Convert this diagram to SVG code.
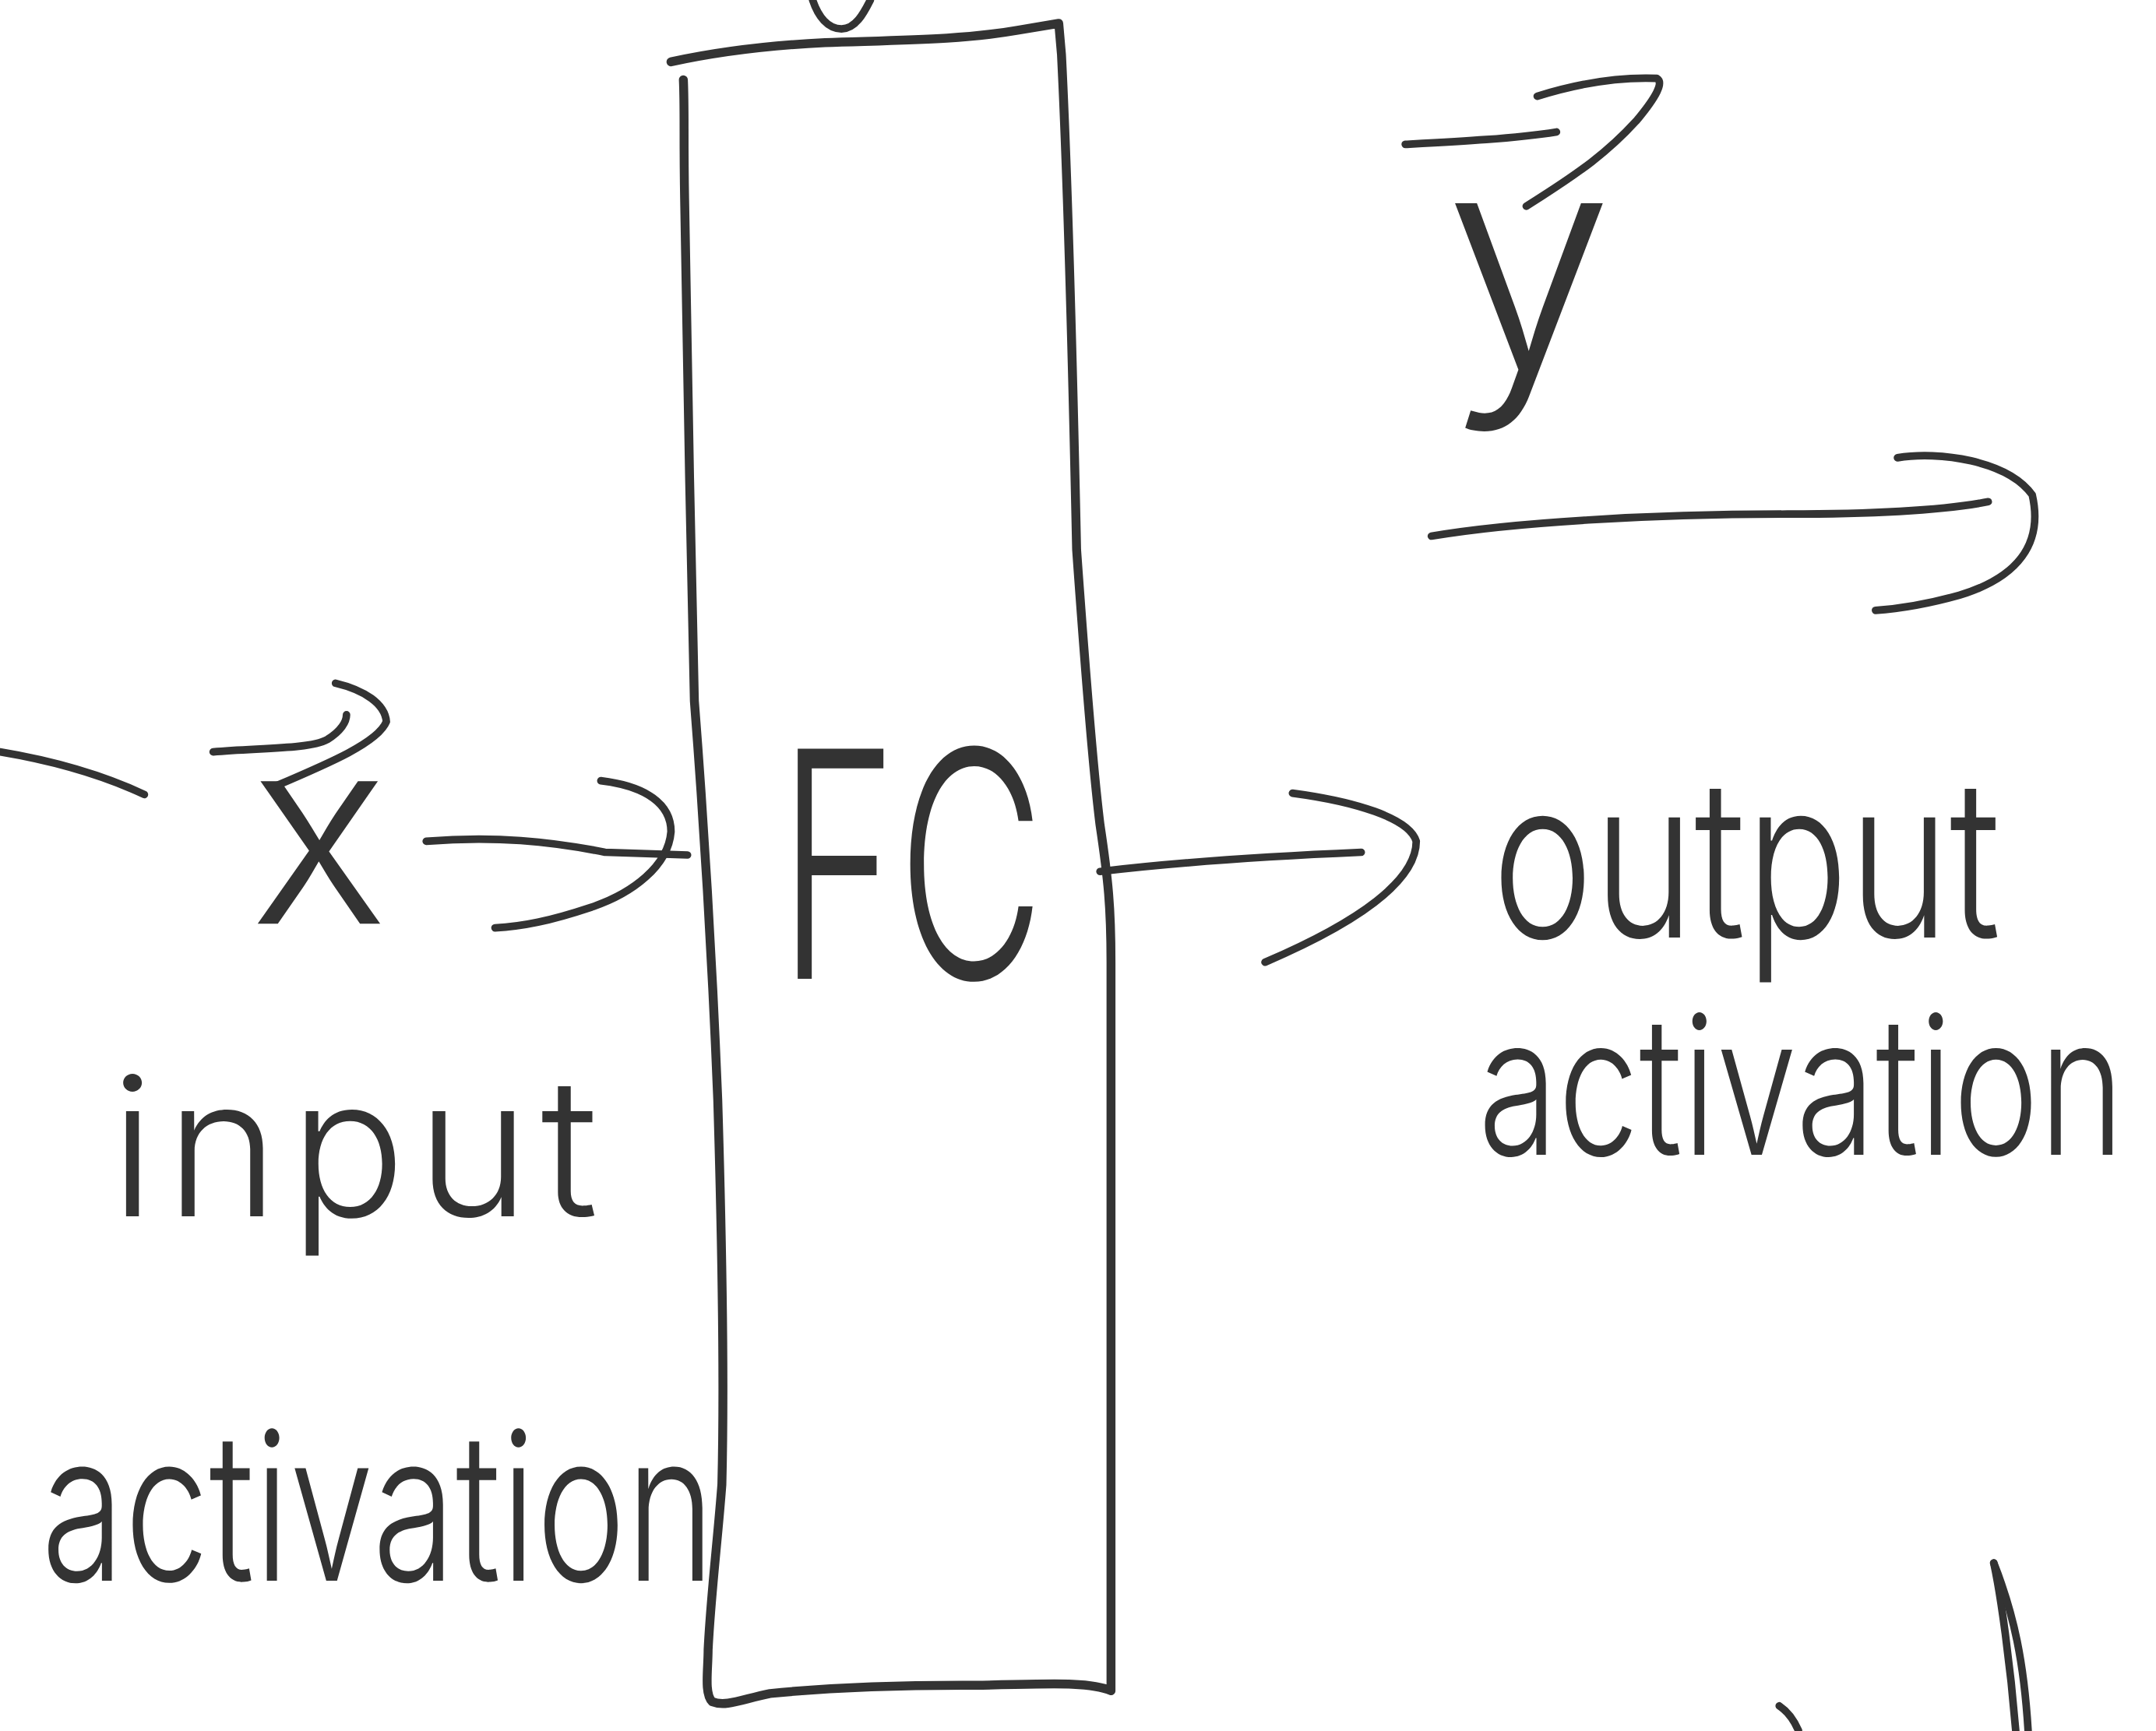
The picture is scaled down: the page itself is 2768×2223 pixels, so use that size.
<svg xmlns="http://www.w3.org/2000/svg" width="2768" height="2223" viewBox="0 0 2768 2223">
  <style>
    .ink { fill: none; stroke: #333; stroke-width: 5.5; stroke-linecap: round; stroke-linejoin: round; }
    .box { stroke-width: 6.5; }
    .hand { fill: #333; font-family: Inter, "DejaVu Sans", "Liberation Sans", sans-serif; font-weight: 300; }
  </style>
  <rect width="2768" height="2223" fill="#ffffff"/>
  <!-- sketch drawn on a 1568-wide grid, scaled up to the canvas -->
  <g transform="scale(1.7653)">
    <g id="connectors">
      <!-- stray stroke at the left margin -->
      <path class="ink" d="M0,547 Q60,557 105,578"/>
      <!-- x into FC -->
      <path class="ink" d="M310,612 C360,608 400,612 440,620 L500,622"/>
      <path class="ink" d="M437,568 C470,572 488,585 488,605 C486,630 460,650 430,660 C400,670 380,674 360,675"/>
      <!-- FC out to the output activation -->
      <path class="ink" d="M800,634 C850,628 920,623 990,620"/>
      <path class="ink" d="M940,577 C985,583 1025,595 1030,612 C1030,640 990,670 920,700"/>
      <!-- hooked arrow above the output label -->
      <path class="ink" d="M1041,390 C1100,380 1200,374 1300,374 C1380,374 1420,370 1446,365"/>
      <path class="ink" d="M1380,333 C1410,328 1460,335 1478,360 C1486,395 1468,420 1425,433 C1400,440 1380,443 1364,444"/>
      <!-- stub entering the top of the layer -->
      <path class="ink" d="M591,0 C595,12 602,21 612,21 C622,21 628,10 633,0"/>
      <!-- strokes running off the bottom edge -->
      <path class="ink" d="M1450,1137 C1455,1160 1462,1210 1466,1259"/>
      <path class="ink" d="M1450,1137 C1465,1175 1472,1210 1475,1259"/>
      <path class="ink" d="M1294,1241 C1300,1245 1305,1252 1308,1259"/>
    </g>

    <g id="node-fc">
      <path class="ink box" d="M497,58 C498,80 497,100 498,150 C500,250 502,400 505,510 C512,600 518,700 522,800 C525,900 527,1000 525,1080 C522,1120 517,1160 515,1200 C515,1215 512,1232 518,1238 C528,1242 540,1236 560,1232 C600,1228 640,1226 700,1226 C750,1226 790,1222 808,1230 L808,700 C808,660 806,640 800,600 C795,560 788,470 783,400 C780,260 776,120 772,40 L770,17 L740,22 C700,29 660,29 600,31 C560,33 520,38 488,45"/>
      <text class="hand" transform="translate(566,712) scale(0.64,1)" font-size="230">FC</text>
    </g>

    <g id="node-x">
      <path class="ink" d="M155,547 C190,544 225,545 238,538 C248,532 252,525 252,520"/>
      <path class="ink" d="M244,497 C265,502 280,512 281,525 C275,540 240,555 200,572"/>
      <text class="hand" x="232" y="672" font-size="190" text-anchor="middle">x</text>
    </g>

    <g id="node-input">
      <text class="hand" x="80" y="885" font-size="140" textLength="355">input</text>
      <text class="hand" x="30" y="1150" font-size="150" textLength="490" lengthAdjust="spacingAndGlyphs">activation</text>
    </g>

    <g id="node-y">
      <path class="ink" d="M1022,105 C1060,103 1100,101 1132,96"/>
      <path class="ink" d="M1118,70 C1150,60 1180,56 1205,57 C1210,60 1205,70 1190,88 C1170,110 1150,125 1110,150"/>
      <text class="hand" x="1112" y="268" font-size="220" text-anchor="middle">y</text>
    </g>

    <g id="node-output">
      <text class="hand" x="1085" y="682" font-size="160" textLength="370" lengthAdjust="spacingAndGlyphs">output</text>
      <text class="hand" x="1075" y="840" font-size="140" textLength="470" lengthAdjust="spacingAndGlyphs">activation</text>
    </g>
  </g>
</svg>
